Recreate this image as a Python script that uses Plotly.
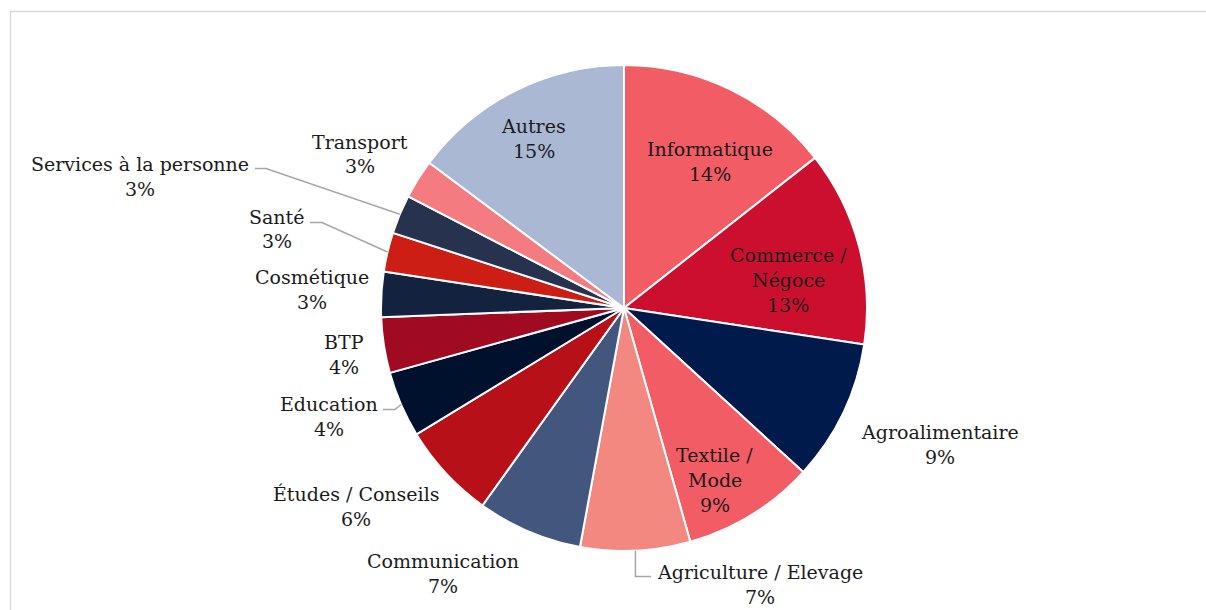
import math
import plotly.graph_objects as go

# Répartition des entreprises par secteur d'activité (%)
sectors = [
    "Informatique", "Commerce / Négoce", "Agroalimentaire", "Textile / Mode",
    "Agriculture / Elevage", "Communication", "Études / Conseils", "Education",
    "BTP", "Cosmétique", "Santé", "Services à la personne", "Transport", "Autres",
]
shares = [14.4, 13.0, 9.4, 8.8, 7.3, 7.0, 6.4, 4.4, 3.7, 3.0, 2.6, 2.6, 2.6, 14.8]
colors = [
    "#F25C65", "#CC0F2E", "#001A4B", "#F25C65", "#F28880", "#42567E", "#B81018",
    "#00112E", "#A00B22", "#12223F", "#CC1E15", "#27324E", "#F47C80", "#AAB8D4",
]

# label text lines (name split where it wraps) and block centre in px
label_lines = {
    "Informatique": ["Informatique"],
    "Commerce / Négoce": ["Commerce /", "Négoce"],
    "Textile / Mode": ["Textile /", "Mode"],
}
label_center = {
    "Informatique": (709.5, 161.5),
    "Commerce / Négoce": (788, 280),
    "Agroalimentaire": (939.5, 444.5),
    "Textile / Mode": (714.5, 480),
    "Agriculture / Elevage": (759.5, 584.5),
    "Communication": (442.5, 573.5),
    "Études / Conseils": (356, 506),
    "Education": (329, 416.5),
    "BTP": (344, 354),
    "Cosmétique": (312, 289.5),
    "Santé": (276.5, 229),
    "Services à la personne": (139.5, 176.5),
    "Transport": (359.5, 154),
    "Autres": (533.5, 138.5),
}
# leader line elbows (px): start near the label, then run to the slice edge
leaders = {
    "Services à la personne": [(255, 168.5), (266, 168.5)],
    "Santé": [(310, 222.5), (322, 222.5)],
    "Education": [(383, 409.5), (395, 409.5)],
    "Agriculture / Elevage": [(651, 576.5), None],
}

W, H = 1206, 610
CX, CY, R = 624, 308, 243
LINE_H = 25
FONT = dict(family="DejaVu Serif", size=19, color="#1a1a1a")


def px(x, y):
    return x / W, 1 - y / H


fig = go.Figure(go.Pie(
    labels=sectors,
    values=shares,
    sort=False,
    direction="clockwise",
    rotation=0,
    marker=dict(colors=colors, line=dict(color="white", width=2)),
    textinfo="none",
    hoverinfo="label+percent",
    domain=dict(x=[(CX - R) / W, (CX + R) / W], y=[(H - CY - R) / H, (H - CY + R) / H]),
    showlegend=False,
))

total = sum(shares)
annotations = []
shapes = []
cum = 0.0
for name, v in zip(sectors, shares):
    mid = (cum + v / 2) / total * 2 * math.pi
    cum += v
    pct = f"{int(v / total * 100 + 0.5)}%"
    lines = label_lines.get(name, [name]) + [pct]
    cx, cy = label_center[name]
    n = len(lines)
    for i, t in enumerate(lines):
        ly = cy + (i - (n - 1) / 2) * LINE_H
        x, y = px(cx, ly)
        annotations.append(dict(
            x=x, y=y, xref="paper", yref="paper", text=t, showarrow=False,
            font=FONT, xanchor="center", yanchor="middle",
        ))
    if name in leaders:
        ex, ey = CX + R * math.sin(mid), CY - R * math.cos(mid)
        (sx, sy), elbow = leaders[name]
        if elbow is None:
            elbow = (ex, sy)
        pts = [(sx, sy), elbow, (ex, ey)]
        path = "M " + " L ".join(f"{px(a, b)[0]},{px(a, b)[1]}" for a, b in pts)
        shapes.append(dict(type="path", path=path, xref="paper", yref="paper",
                           line=dict(color="#a6a6a6", width=1.5)))

# chart area frame
shapes.append(dict(type="rect", xref="paper", yref="paper",
                   x0=10.5 / W, x1=1.05, y0=-0.05, y1=1 - 11.5 / H,
                   line=dict(color="#d9d9d9", width=1.5), fillcolor="rgba(0,0,0,0)"))

fig.update_layout(
    width=W, height=H,
    margin=dict(l=0, r=0, t=0, b=0),
    paper_bgcolor="white",
    plot_bgcolor="white",
    annotations=annotations,
    shapes=shapes,
)

fig.write_html("out.html")
